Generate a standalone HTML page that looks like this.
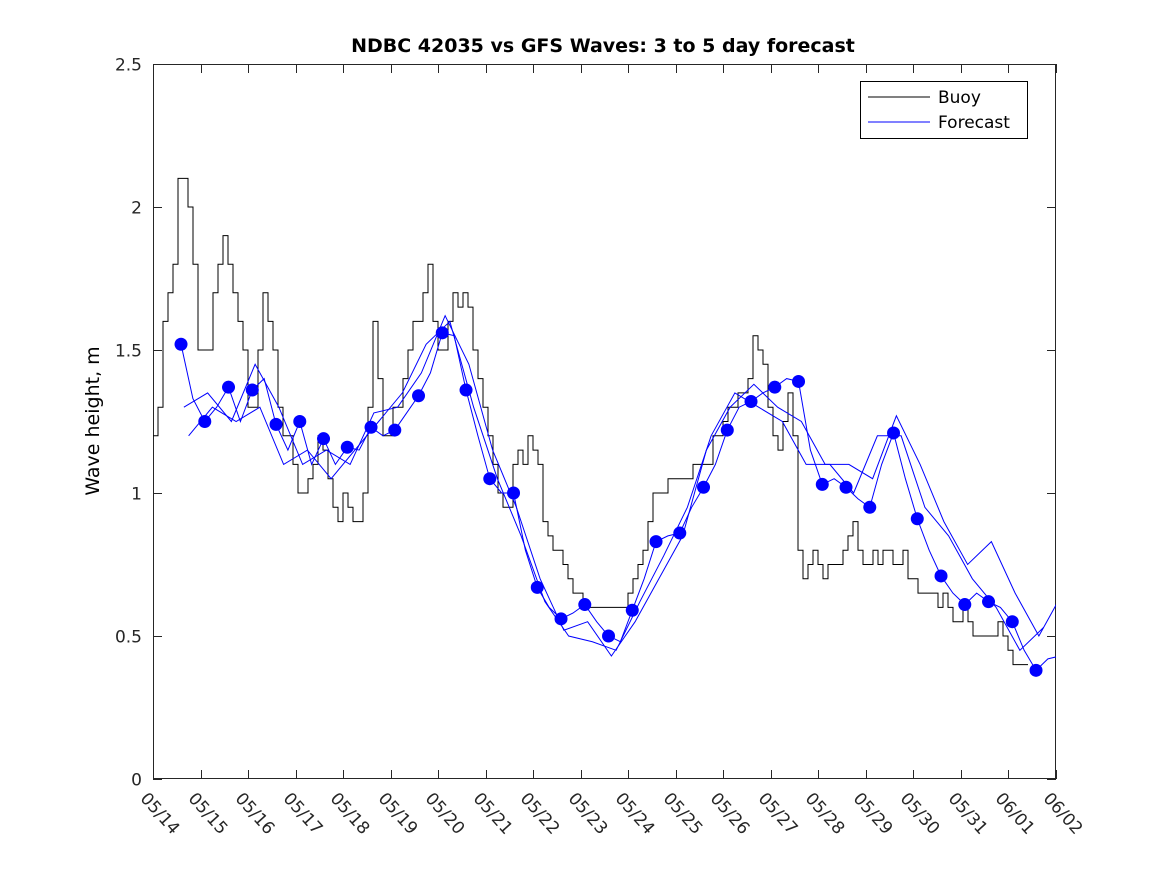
<!DOCTYPE html>
<html><head><meta charset="utf-8"><style>
body{margin:0;background:#fff;}
text{font-family:"DejaVu Sans","Liberation Sans",sans-serif;}
</style></head><body>
<svg id="chart" width="1167" height="875" xmlns="http://www.w3.org/2000/svg">
<rect width="1167" height="875" fill="#fff"/>
<text x="603" y="52" text-anchor="middle" font-size="19" font-weight="bold">NDBC 42035 vs GFS Waves: 3 to 5 day forecast</text>
<text transform="translate(99,421) rotate(-90)" text-anchor="middle" font-size="19">Wave height, m</text>
<defs><clipPath id="pc"><rect x="153" y="64" width="903" height="715"/></clipPath></defs>
<g id="axes"></g>
<g id="marks" clip-path="url(#pc)"></g>
<g>
<rect x="860.5" y="81.5" width="167" height="57" fill="#fff" stroke="#000" stroke-width="1"/>
<line x1="868" y1="97" x2="930" y2="97" stroke="#000"/>
<text x="938" y="103" font-size="17">Buoy</text>
<line x1="868" y1="122" x2="930" y2="122" stroke="#00f"/>
<text x="938" y="128" font-size="17">Forecast</text>
</g>
</svg>
<script>
const xTickLabels=["05/14","05/15","05/16","05/17","05/18","05/19","05/20","05/21","05/22","05/23","05/24","05/25","05/26","05/27","05/28","05/29","05/30","05/31","06/01","06/02"];
const yTicks=[0,0.5,1,1.5,2,2.5];
const yTickLabels=["0","0.5","1","1.5","2","2.5"];
const buoyStep=5/47.5;
const buoy=[1.2,1.3,1.6,1.7,1.8,2.1,2.1,2.0,1.8,1.5,1.5,1.5,1.7,1.8,1.9,1.8,1.7,1.6,1.5,1.3,1.3,1.5,1.7,1.6,1.5,1.3,1.2,1.2,1.1,1.0,1.0,1.05,1.1,1.2,1.15,1.05,0.95,0.9,1.0,0.95,0.9,0.9,1.0,1.3,1.6,1.4,1.2,1.2,1.3,1.3,1.4,1.5,1.6,1.6,1.7,1.8,1.6,1.5,1.5,1.6,1.7,1.65,1.7,1.65,1.5,1.4,1.3,1.2,1.1,1.0,0.95,0.95,1.1,1.15,1.1,1.2,1.15,1.1,0.9,0.85,0.8,0.8,0.75,0.7,0.65,0.65,0.6,0.6,0.6,0.6,0.6,0.6,0.6,0.6,0.6,0.65,0.7,0.75,0.8,0.9,1.0,1.0,1.0,1.05,1.05,1.05,1.05,1.05,1.1,1.1,1.1,1.1,1.2,1.2,1.25,1.3,1.3,1.35,1.35,1.4,1.55,1.5,1.45,1.3,1.2,1.15,1.25,1.35,1.2,0.8,0.7,0.75,0.8,0.75,0.7,0.75,0.75,0.75,0.8,0.85,0.9,0.8,0.75,0.75,0.8,0.75,0.8,0.8,0.75,0.75,0.8,0.7,0.7,0.65,0.65,0.65,0.65,0.6,0.65,0.6,0.55,0.55,0.6,0.55,0.5,0.5,0.5,0.5,0.5,0.55,0.5,0.45,0.4,0.4,0.4];
const dotStart=0.59, dotStep=0.5;
const dots=[1.52,1.25,1.37,1.36,1.24,1.25,1.19,1.16,1.23,1.22,1.34,1.56,1.36,1.05,1.00,0.67,0.56,0.61,0.50,0.59,0.83,0.86,1.02,1.22,1.32,1.37,1.39,1.03,1.02,0.95,1.21,0.91,0.71,0.61,0.62,0.55,0.38];
const f1Start=0.59, f1Step=0.25;
const f1=[1.52,1.33,1.25,1.3,1.37,1.25,1.36,1.4,1.24,1.15,1.25,1.1,1.19,1.1,1.16,1.15,1.23,1.2,1.22,1.28,1.34,1.42,1.56,1.55,1.36,1.2,1.05,1.0,1.0,0.8,0.67,0.6,0.56,0.58,0.61,0.55,0.5,0.48,0.59,0.7,0.83,0.85,0.86,0.95,1.02,1.1,1.22,1.3,1.32,1.35,1.37,1.4,1.39,1.15,1.03,1.05,1.02,0.98,0.95,1.1,1.21,1.05,0.91,0.8,0.71,0.65,0.61,0.65,0.62,0.6,0.55,0.45,0.38,0.42,0.43];
const f2Start=0.65, f2Step=0.5;
const f2=[1.3,1.35,1.25,1.45,1.3,1.1,1.15,1.1,1.28,1.3,1.42,1.62,1.45,1.15,0.95,0.7,0.52,0.55,0.43,0.55,0.7,0.85,1.15,1.3,1.38,1.3,1.25,1.1,1.1,1.05,1.27,1.1,0.9,0.75,0.83,0.65,0.5,0.65];
const f3Start=0.75, f3Step=0.5;
const f3=[1.2,1.3,1.25,1.3,1.1,1.15,1.05,1.15,1.25,1.35,1.52,1.6,1.3,1.05,0.85,0.62,0.5,0.48,0.45,0.62,0.78,0.95,1.2,1.35,1.3,1.25,1.1,1.1,1.0,1.2,1.2,0.95,0.85,0.7,0.6,0.45,0.53];

const X=d=>153+d*47.5, Y=v=>779-v*286;
const NS="http://www.w3.org/2000/svg";
const axes=document.getElementById('axes'), marks=document.getElementById('marks');
function mk(tag,attrs,parent){const e=document.createElementNS(NS,tag);for(const k in attrs)e.setAttribute(k,attrs[k]);parent.appendChild(e);return e;}

let e=mk('rect',{x:153.5,y:64.5,width:902,height:714,fill:'none',stroke:'#262626','stroke-width':1},axes);


yTicks.forEach((v,i)=>{const y=Math.round(Y(v))+0.5;
 let t=mk('path',{d:`M153,${y}h9M1056,${y}h-9`,stroke:'#262626'},axes);
 
 
 let l=mk('text',{x:142,y:y+6,'text-anchor':'end','font-size':17,fill:'#262626'},axes);l.textContent=yTickLabels[i];
 
 
});
xTickLabels.forEach((s,i)=>{const x=Math.round(X(i))+0.5;
 let t=mk('path',{d:`M${x},779v-9M${x},64v9`,stroke:'#262626'},axes);
 
 
 let l=mk('text',{transform:`translate(${x-14},${799}) rotate(48)`,'font-size':17,fill:'#262626'},axes);l.textContent=s;
 
 
});
let d='';buoy.forEach((v,i)=>{const x=X(i*buoyStep),y=Y(v);d+=i?`H${x}V${y}`:`M${x},${y}`;});
d+=`H${X(buoy.length*buoyStep)}`;
let b=mk('path',{d:d,fill:'none',stroke:'#000','stroke-width':1},marks);


function line(arr,st,step,name){const p=arr.map((v,i)=>`${X(st+i*step)},${Y(v)}`).join(' ');
 let l=mk('polyline',{points:p,fill:'none',stroke:'#00f','stroke-width':1},marks);
 
 }
line(f1,f1Start,f1Step,'forecast-line-1');
line(f2,f2Start,f2Step,'forecast-line-2');
line(f3,f3Start,f3Step,'forecast-line-3');
dots.forEach((v,i)=>{let c=mk('circle',{cx:X(dotStart+i*dotStep),cy:Y(v),r:6.5,fill:'#00f'},marks);
 
 });
</script>
</body></html>
